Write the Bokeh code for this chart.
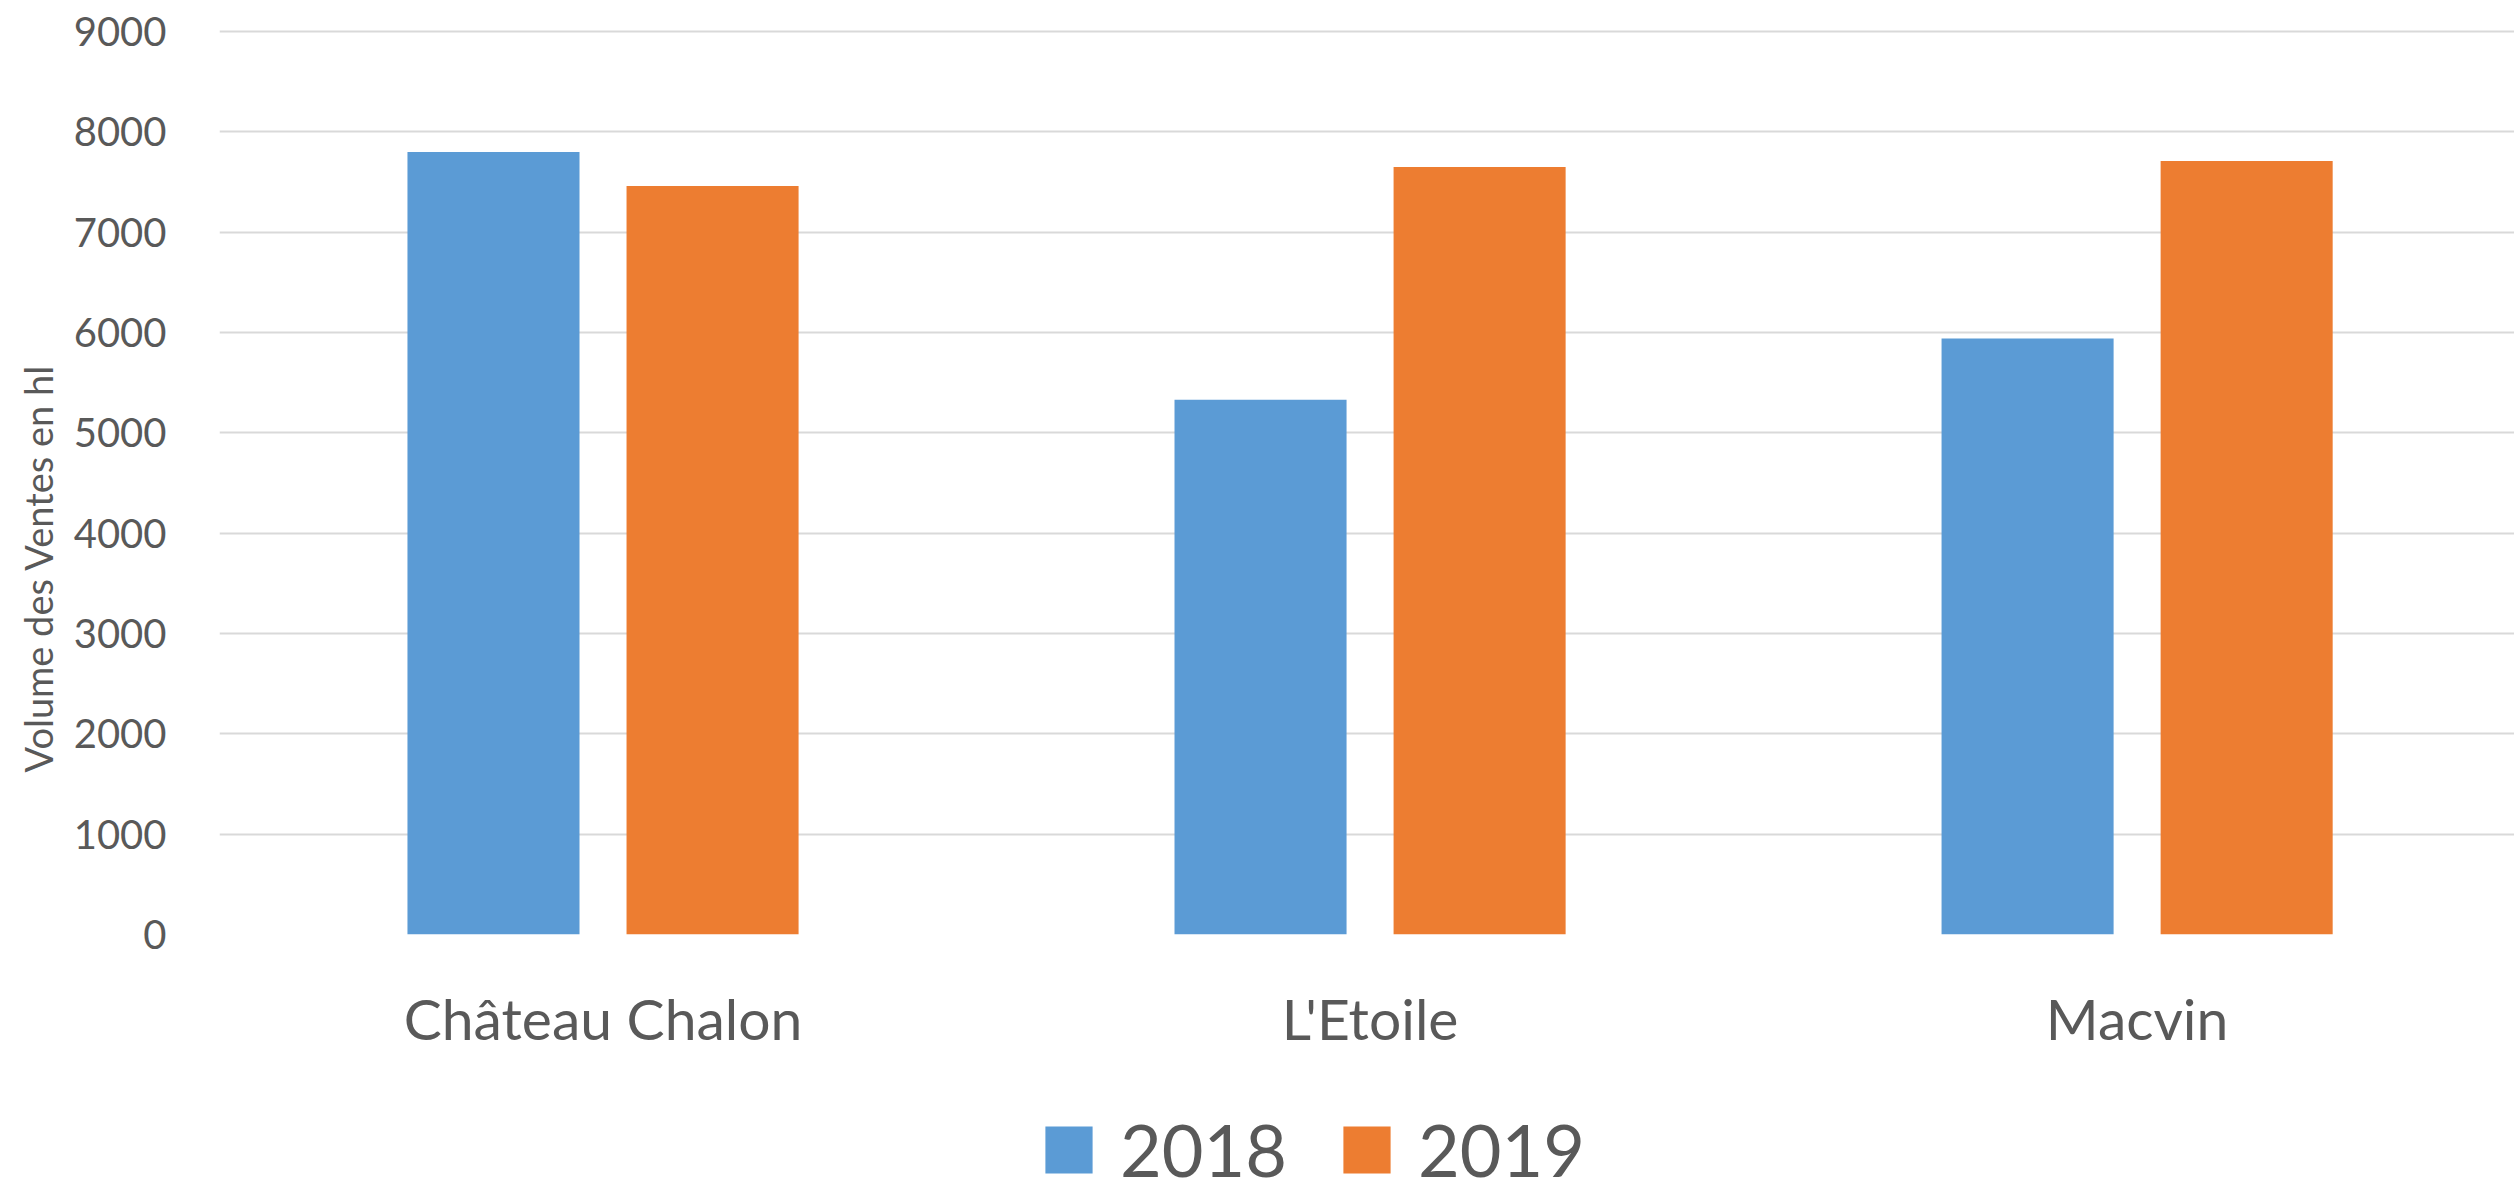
from bokeh.plotting import figure
from bokeh.layouts import column
from bokeh.models import ColumnDataSource, Range1d, FixedTicker, Legend, LegendItem, Title
from bokeh.transform import dodge
from bokeh.embed import file_html
from bokeh.resources import INLINE

categories = ["Château Chalon", "L'Etoile", "Macvin"]
years = ["2018", "2019"]
v2018 = [7800, 5330, 5940]
v2019 = [7460, 7650, 7710]
y_ticks = [0, 1000, 2000, 3000, 4000, 5000, 6000, 7000, 8000, 9000]
y_title = "Volume des Ventes en hl"
colors = ["#5B9BD5", "#ED7D31"]

FONT = "Lato"
TXT = "#595959"

pos = [i + 0.5 for i in range(len(categories))]
src = ColumnDataSource(dict(x=pos, v2018=v2018, v2019=v2019))

p = figure(width=2514, height=1080,
           x_range=Range1d(0, 2.992), y_range=Range1d(0, 9030),
           output_backend="svg", toolbar_location=None,
           min_border_left=219, min_border_right=0,
           min_border_top=28, min_border_bottom=146)
p.outline_line_color = None
p.background_fill_color = "white"
p.border_fill_color = "white"

r1 = p.vbar(x=dodge("x", -0.1428), top="v2018", width=0.2243, source=src,
            fill_color=colors[0], line_color=None)
r2 = p.vbar(x=dodge("x", 0.1428), top="v2019", width=0.2243, source=src,
            fill_color=colors[1], line_color=None)

# x axis
xa = p.xaxis[0]
xa.ticker = FixedTicker(ticks=pos)
xa.major_label_overrides = {x: c for x, c in zip(pos, categories)}
xa.axis_line_color = None
xa.major_tick_line_color = None
xa.minor_tick_line_color = None
xa.major_label_text_font = FONT
xa.major_label_text_font_size = "57px"
xa.major_label_text_color = TXT
xa.major_label_standoff = 43

# y axis
ya = p.yaxis[0]
ya.ticker = FixedTicker(ticks=y_ticks)
ya.axis_line_color = None
ya.major_tick_line_color = None
ya.minor_tick_line_color = None
ya.major_label_text_font = FONT
ya.major_label_text_font_size = "40px"
ya.major_label_text_color = TXT
ya.major_label_standoff = 47

ytitle = Title(text=y_title, align="left", offset=162, standoff=20,
               text_font=FONT, text_font_size="38px", text_font_style="normal",
               text_color=TXT)
p.add_layout(ytitle, "left")

p.xgrid.grid_line_color = None
p.ygrid.grid_line_color = "#D9D9D9"
p.ygrid.grid_line_width = 2
p.ygrid.ticker = FixedTicker(ticks=y_ticks)

# legend strip (its bars lie below the visible y range; only the legend shows)
lg = figure(width=2514, height=112, x_range=p.x_range, y_range=Range1d(10000, 10112),
            output_backend="svg", toolbar_location=None,
            min_border_left=0, min_border_right=0, min_border_top=0, min_border_bottom=0)
lg.axis.visible = False
lg.grid.visible = False
lg.outline_line_color = None
l1 = lg.vbar(x=dodge("x", -0.1428), top="v2018", width=0.2243, source=src,
             fill_color=colors[0], line_color=None)
l2 = lg.vbar(x=dodge("x", 0.1428), top="v2019", width=0.2243, source=src,
             fill_color=colors[1], line_color=None)

legend = Legend(items=[LegendItem(label=years[0], renderers=[l1]),
                       LegendItem(label=years[1], renderers=[l2])],
                orientation="horizontal", location=(820, 0),
                border_line_color=None, background_fill_alpha=0,
                padding=0, margin=0, glyph_width=59, glyph_height=59,
                label_standoff=22, spacing=50,
                label_text_font=FONT, label_text_font_size="72px",
                label_text_color=TXT)
lg.add_layout(legend)

open("out.html", "w").write(file_html(column(p, lg), INLINE))
